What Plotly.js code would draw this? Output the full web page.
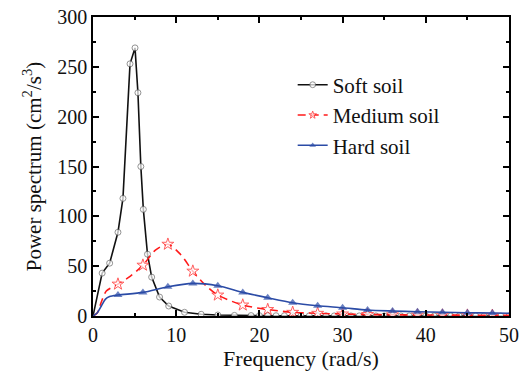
<!DOCTYPE html>
<html><head><meta charset="utf-8">
<script src="https://cdn.plot.ly/plotly-3.0.1.min.js"></script>
<style>html,body{margin:0;padding:0;background:#fff}#c{width:524px;height:374px}</style>
</head><body><div id="c"></div>
<script>
const softX = [0,1.1,2.0,3.0,3.6,4.45,5.05,5.4,5.75,6.05,6.55,7.05,8,9.1,11,13,15,17,19,20,21,22,23,24,25,26,27,28,29,30,31,32,33,34,35,36,37,38,39,40,41,42,43,44,45,46,47,48,49,50];
const softY = [0,43,53,84,118,253,269,224,150,107,62,39,19,10,3.7,1.7,1,0.6,0.4,0.35,0.3,0.28,0.25,0.22,0.2,0.18,0.16,0.15,0.14,0.13,0.12,0.11,0.1,0.1,0.09,0.09,0.08,0.08,0.07,0.07,0.06,0.06,0.06,0.05,0.05,0.05,0.05,0.04,0.04,0.04];
const softMark = [0,1,1,1,1,1,1,1,1,1,1,1,1,1,1,1,1,1,1,1,1,1,1,1,1,1,1,1,1,1,1,1,1,1,1,1,1,1,1,1,1,1,1,1,1,1,1,1,1,1];

const medX = [0,0.5,1,1.6,3,4.5,6,7.5,9,10.5,12,13.5,15,18,21,24,27,30,33,36,39,42,45,48,50];
const medY = [0,3,14,25,32,40,51,66,72,62,45,31,21,11,6.5,3.7,2.7,2,1.5,1.2,1,0.9,0.8,0.7,0.6];
const medMark = [0,0,0,0,1,0,1,0,1,0,1,0,1,1,1,1,1,1,1,1,1,1,1,1,0];

const hardX = [0,0.5,1,1.5,2,3,6,9,12,15,18,21,24,27,30,33,36,39,42,45,48,50];
const hardY = [0,3,10,17,19.5,21,23.7,29.3,32.7,30.3,23.7,18.3,13.3,10.3,8.3,6,5,4.3,3.7,3.3,3,2.8];
const hardMark = [0,0,0,0,0,1,1,1,1,1,1,1,1,1,1,1,1,1,1,1,1,0];

const names = ['Soft soil','Medium soil','Hard soil'];

const SERIF = 'Liberation Serif';

const traces = [
  {x: softX, y: softY, name: names[0], mode:'lines+markers', type:'scatter',
   line:{color:'#111', width:1.6},
   marker:{symbol:'circle', size: softMark.map(m=>m?6:0), color:'#fff', line:{color:'#666', width:1}}},
  {x: medX, y: medY, name: names[1], mode:'lines+markers', type:'scatter',
   line:{color:'#ff1a1a', width:1.6, dash:'8px,5px', shape:'spline', smoothing:0.8},
   marker:{symbol:'star', size: medMark.map(m=>m?9:0), color:'#fff', line:{color:'#ff1a1a', width:1}}},
  {x: hardX, y: hardY, name: names[2], mode:'lines+markers', type:'scatter',
   line:{color:'#2b4ba6', width:1.6, shape:'spline', smoothing:0.8},
   marker:{symbol:'triangle-up', size: hardMark.map(m=>m?8:0), color:'#2b4ba6', line:{color:'#2b4ba6', width:0}}}
];

const axisCommon = {
  showline:true, linecolor:'#000', linewidth:1.5, mirror:'ticks',
  ticks:'inside', ticklen:6, tickwidth:1.5, tickcolor:'#000',
  showgrid:false, zeroline:false,
  tickfont:{family:SERIF, size:20, color:'#111'}
};

const layout = {
  width:524, height:374,
  margin:{l:93, r:15, t:17, b:58},
  paper_bgcolor:'#fff', plot_bgcolor:'#fff',
  font:{family:SERIF, size:20, color:'#111'},
  showlegend:true,
  legend:{x:0.48, y:0.672, xanchor:'left', yanchor:'middle', bgcolor:'rgba(0,0,0,0)',
    font:{family:SERIF, size:21, color:'#111'}, tracegroupgap:0, itemwidth:30},
  xaxis: Object.assign({}, axisCommon, {
    range:[0,50], dtick:10, tick0:0,
    minor:{dtick:5, ticks:'inside', ticklen:3, tickwidth:1.5, tickcolor:'#000'},
    title:{text:'Frequency (rad/s)', font:{family:SERIF, size:22, color:'#111'}, standoff:6}
  }),
  yaxis: Object.assign({}, axisCommon, {
    range:[0,300], dtick:50, tick0:0,
    minor:{dtick:25, ticks:'inside', ticklen:3, tickwidth:1.5, tickcolor:'#000'},
    title:{text:'Power spectrum (cm<sup>2</sup>/s<sup>3</sup>)', font:{family:SERIF, size:21, color:'#111'}, standoff:10}
  })
};

function draw(){ Plotly.newPlot('c', traces, layout, {displayModeBar:false}); }
if (document.fonts && document.fonts.load) {
  document.fonts.load('20px "Liberation Serif"').then(draw, draw);
} else { draw(); }
</script></body></html>
